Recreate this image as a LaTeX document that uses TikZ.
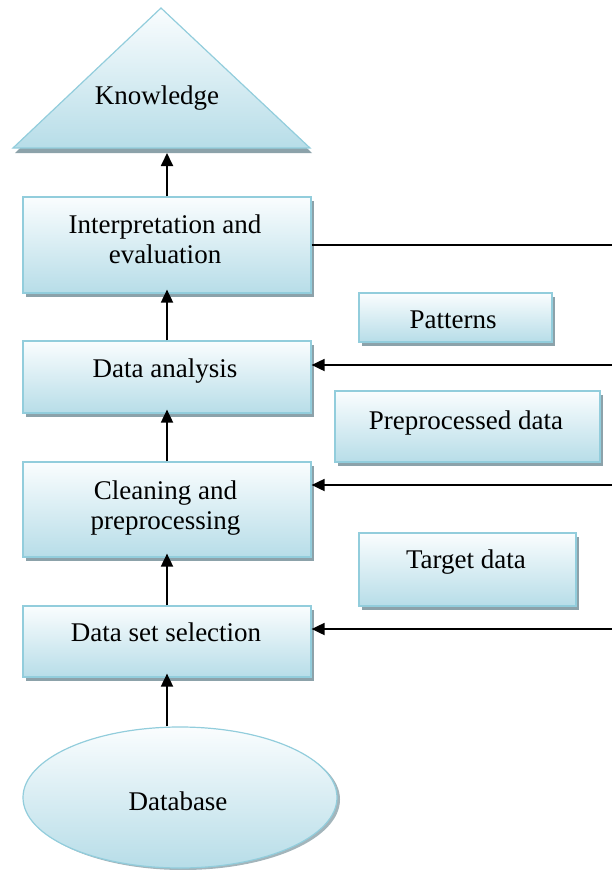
\documentclass[tikz,border=0pt]{standalone}
\usepackage{fontspec}
\setmainfont{Liberation Serif}
\usetikzlibrary{arrows.meta,shapes.geometric,shadows}
\definecolor{boxtop}{RGB}{250,253,254}
\definecolor{boxbot}{RGB}{183,221,232}
\definecolor{boxline}{RGB}{146,205,220}
\definecolor{shadowc}{RGB}{140,162,170}
\begin{document}
\begin{tikzpicture}[x=1pt,y=-1pt,
  shade3d/.style={draw=boxline, line width=1.2pt, top color=boxtop, bottom color=boxbot, inner sep=0pt},
  box/.style={shade3d, drop shadow={shadow xshift=3pt, shadow yshift=-4pt, fill=shadowc, opacity=1}},
  lbl/.style={font=\fontsize{27}{30}\selectfont, inner sep=0pt, align=center},
  arr/.style={line width=1.8pt, -{Triangle[width=12pt,length=13pt]}},
  ln/.style={line width=1.8pt}]
\useasboundingbox (0,0) rectangle (612,870);

% Knowledge triangle
\path[shade3d, drop shadow={shadow xshift=2pt, shadow yshift=-5pt, fill=shadowc, opacity=1}]
  (13,148) -- (161,8) -- (310,148) -- cycle;
\coordinate (kbase) at (167,153);
\node[lbl, anchor=base] (know) at (157,104) {Knowledge};

% left column
\node[box, minimum width=288pt, minimum height=96pt] (interp) at (167,245) {};
\node[lbl] (interpT) at (165,239.5) {Interpretation and\\evaluation};
\node[box, minimum width=288pt, minimum height=72pt] (ana) at (167,377) {};
\node[lbl, anchor=base] (anaT) at (165,377) {Data analysis};
\node[box, minimum width=288pt, minimum height=95pt] (clean) at (167,509.5) {};
\node[lbl] (cleanT) at (165.5,508) {Cleaning and\\preprocessing};
\node[box, minimum width=288pt, minimum height=71pt] (sel) at (167,641.5) {};
\node[lbl, anchor=base] (selT) at (166,641) {Data set selection};

% right column
\node[box, minimum width=193pt, minimum height=49pt] (pat) at (455.5,317.5) {};
\node[lbl, anchor=base] (patT) at (453,328) {Patterns};
\node[box, minimum width=265pt, minimum height=71pt] (pre) at (467.5,426.5) {};
\node[lbl, anchor=base] (preT) at (466,429) {Preprocessed data};
\node[box, minimum width=217pt, minimum height=73pt] (tgt) at (467.5,569.5) {};
\node[lbl, anchor=base] (tgtT) at (466,568) {Target data};

% database
\node[shade3d, ellipse, minimum width=314pt, minimum height=141pt,
  drop shadow={shadow xshift=3pt, shadow yshift=-2pt, fill=shadowc, opacity=0.8}] (db) at (180,797.5) {};
\node[lbl, anchor=base] (dbT) at (178,810) {Database};

% right edge coordinates
\coordinate (r1) at (612,245);
\coordinate (r2) at (612,365);
\coordinate (r3) at (612,485);
\coordinate (r4) at (612,629);

% connectors
\draw[ln] (interp.east) -- (r1);
\draw[arr] (r2) -- (ana.east |- r2);
\draw[arr] (r3) -- (clean.east |- r3);
\draw[arr] (r4) -- (sel.east |- r4);

\draw[arr] (interp.north) -- (kbase);
\draw[arr, shorten >=-4pt] (ana.north) -- (interp.south);
\draw[arr, shorten >=-4pt] (clean.north) -- (ana.south);
\draw[arr, shorten >=-4pt] (sel.north) -- (clean.south);
\draw[arr, shorten >=-4pt] (sel.south |- db.north) -- (sel.south);
\end{tikzpicture}
\end{document}
